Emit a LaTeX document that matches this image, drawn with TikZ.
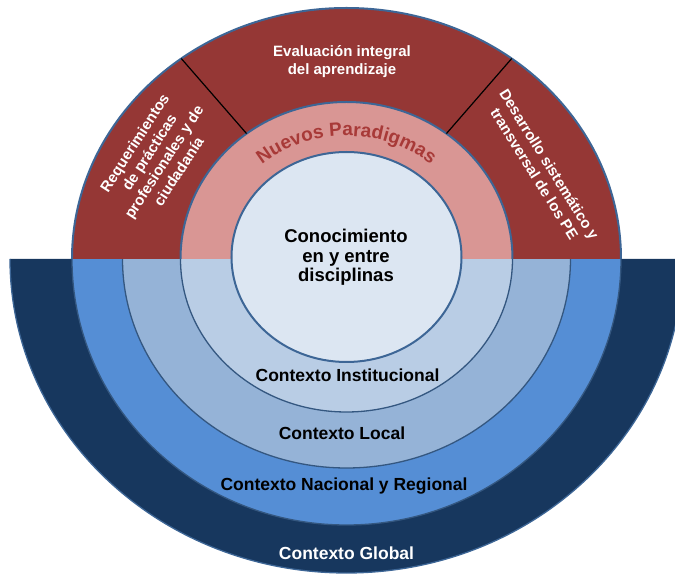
\documentclass[tikz,border=0pt]{standalone}
\usepackage{fontspec}
\setmainfont{Liberation Sans}
\usetikzlibrary{decorations.text}

\definecolor{rojo}{HTML}{953735}
\definecolor{rosa}{HTML}{D99694}
\definecolor{borde}{HTML}{3D6696}
\definecolor{global}{HTML}{17375E}
\definecolor{nacional}{HTML}{558ED5}
\definecolor{local}{HTML}{95B3D7}
\definecolor{institucional}{HTML}{B9CDE5}
\definecolor{centro}{HTML}{DCE6F2}
\definecolor{letrarojo}{HTML}{A83A38}

\begin{document}
\begin{tikzpicture}[x=1pt, y=1pt,
    edge/.style={draw=borde, line width=2pt},
    thinedge/.style={draw=borde!85!black, line width=1.3pt},
    toplabel/.style={text=white, font=\bfseries\fontsize{15}{17.5}\selectfont, align=center},
    ctxlabel/.style={font=\bfseries\fontsize{17.5}{19}\selectfont}]

\useasboundingbox (-346.5,-316) rectangle (328.5,259);
\clip (-346.5,-316) rectangle (328.5,259);

% contexto global
    \fill[global] (-336.5,0) arc[start angle=180, end angle=360, x radius=336.5, y radius=314] -- cycle;
    \draw[thinedge, draw=borde] (-336.5,0) arc[start angle=180, end angle=360, x radius=336.5, y radius=314];
% contexto nacional y regional
    \fill[nacional] (-274.5,0) arc[start angle=180, end angle=360, x radius=274.5, y radius=266] -- cycle;
    \draw[thinedge] (-274.5,0) arc[start angle=180, end angle=360, x radius=274.5, y radius=266];
% contexto local
    \fill[local] (-224,0) arc[start angle=180, end angle=360, x radius=224, y radius=209] -- cycle;
    \draw[thinedge] (-224,0) arc[start angle=180, end angle=360, x radius=224, y radius=209];
% contexto institucional
    \fill[institucional] (-166,0) arc[start angle=180, end angle=360, x radius=166, y radius=153] -- cycle;
    \draw[thinedge] (-166,0) arc[start angle=180, end angle=360, x radius=166, y radius=153];

% upper half
    \fill[rojo] (-274.5,0) arc[start angle=180, end angle=0, x radius=274.5, y radius=251] -- cycle;
    \draw[edge] (-274.5,0) arc[start angle=180, end angle=0, x radius=274.5, y radius=251];
% nuevos paradigmas
    \fill[rosa] (-166,0) arc[start angle=180, end angle=0, x radius=166, y radius=157] -- cycle;
    \draw[edge] (-166,0) arc[start angle=180, end angle=0, x radius=166, y radius=157];

% dividers
    \coordinate (izqa) at (127:166 and 157);
    \coordinate (izqb) at (127:274.5 and 251);
    \coordinate (dera) at (53:166 and 157);
    \coordinate (derb) at (53:274.5 and 251);
    \draw[line width=1.2pt] (izqa) -- (izqb);
    \draw[line width=1.2pt] (dera) -- (derb);

% conocimiento
    \filldraw[fill=centro, edge] (0,2) ellipse [x radius=115, y radius=105];

% curved label
    \path[decorate, decoration={text along path, text align=center,
        text={|\bfseries\fontsize{19}{19}\selectfont\color{letrarojo}|Nuevos Paradigmas}}]
        (160:132 and 123) arc[start angle=160, end angle=20, x radius=132, y radius=123];

% labels
    \node[toplabel] (evaluacion) at (-4.5,197.5) {Evaluación integral\\del aprendizaje};
    \node[toplabel, rotate=57] (requerimientos) at (-190,102)
        {Requerimientos\\de prácticas\\profesionales y de\\ciudadanía};
    \node[toplabel, rotate=-58] (desarrollo) at (195.5,90)
        {Desarrollo sistemático y\\transversal de los PE};
    \node[font=\bfseries\fontsize{18.5}{19.5}\selectfont, align=center] (conocimiento) at (-0.5,1.5)
        {Conocimiento\\en y entre\\disciplinas};
    \node[ctxlabel] (institucional) at (1,-116) {Contexto Institucional};
    \node[ctxlabel] (localctx) at (-4.5,-174) {Contexto Local};
    \node[ctxlabel] (nacional) at (-2.5,-227) {Contexto Nacional y Regional};
    \node[ctxlabel, text=white] (globalctx) at (0,-294) {Contexto Global};

\end{tikzpicture}
\end{document}
